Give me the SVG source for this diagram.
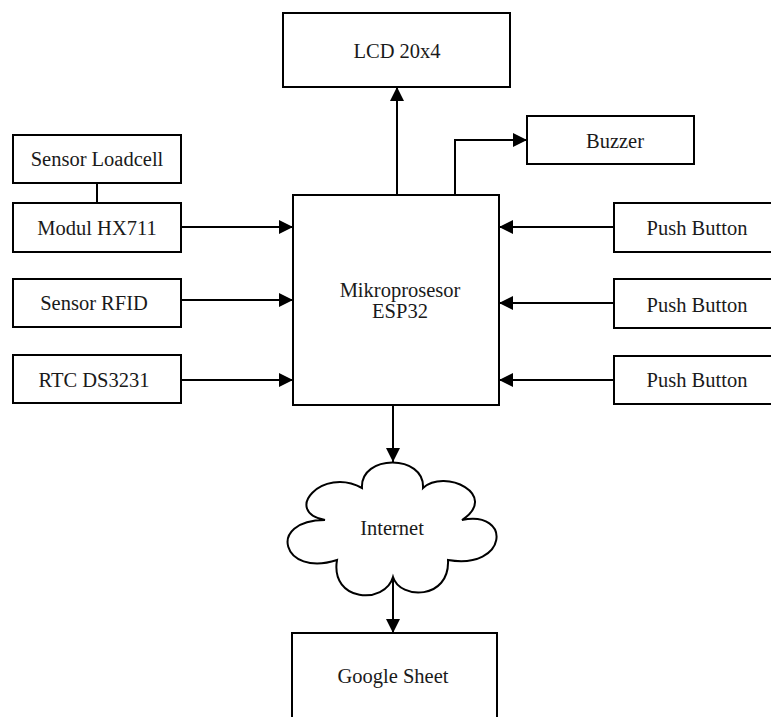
<svg xmlns="http://www.w3.org/2000/svg" width="771" height="717" viewBox="0 0 771 717">
  <style>
    .box { fill: #ffffff; stroke: #000000; stroke-width: 2; }
    .lbl { font-family: "Liberation Serif", "Times New Roman", serif; font-size: 20.5px; fill: #1a1a1a; text-anchor: middle; }
    .wire { fill: none; stroke: #000000; stroke-width: 2; }
    .arrow { marker-end: url(#head); }
  </style>
  <defs>
    <marker id="head" viewBox="0 0 14 14" refX="14" refY="7" markerWidth="14" markerHeight="14" markerUnits="userSpaceOnUse" orient="auto">
      <path d="M0,0 L14,7 L0,14 Z" fill="#000000"/>
    </marker>
  </defs>

  <rect width="771" height="717" fill="#ffffff"/>

  <!-- connectors -->
  <g id="connectors">
    <line class="wire" x1="97" y1="183" x2="97" y2="203"/>
    <line class="wire arrow" x1="181" y1="227" x2="293" y2="227"/>
    <line class="wire arrow" x1="181" y1="300" x2="293" y2="300"/>
    <line class="wire arrow" x1="181" y1="380" x2="293" y2="380"/>
    <line class="wire arrow" x1="614" y1="227" x2="499" y2="227"/>
    <line class="wire arrow" x1="614" y1="303" x2="499" y2="303"/>
    <line class="wire arrow" x1="614" y1="380" x2="499" y2="380"/>
    <line class="wire arrow" x1="397" y1="195" x2="397" y2="87"/>
    <polyline class="wire arrow" points="455,195 455,140 527,140"/>
    <line class="wire arrow" x1="393" y1="405" x2="393" y2="462"/>
    <line class="wire arrow" x1="393" y1="577" x2="393" y2="633"/>
  </g>

  <g id="lcd">
    <rect class="box" x="283" y="13" width="227" height="74"/>
    <text class="lbl" x="397" y="58">LCD 20x4</text>
  </g>

  <g id="buzzer">
    <rect class="box" x="527" y="116" width="167" height="48"/>
    <text class="lbl" x="615" y="148">Buzzer</text>
  </g>

  <g id="loadcell">
    <rect class="box" x="13" y="135" width="168" height="48"/>
    <text class="lbl" x="97" y="166">Sensor Loadcell</text>
  </g>

  <g id="hx711">
    <rect class="box" x="13" y="203" width="168" height="49"/>
    <text class="lbl" x="97" y="235">Modul HX711</text>
  </g>

  <g id="rfid">
    <rect class="box" x="13" y="279" width="168" height="48"/>
    <text class="lbl" x="94" y="310">Sensor RFID</text>
  </g>

  <g id="rtc">
    <rect class="box" x="13" y="355" width="168" height="48"/>
    <text class="lbl" x="94" y="387">RTC DS3231</text>
  </g>

  <g id="esp32">
    <rect class="box" x="293" y="195" width="206" height="210"/>
    <text class="lbl" x="400" y="297">Mikroprosesor</text>
    <text class="lbl" x="400" y="318">ESP32</text>
  </g>

  <g id="button1">
    <rect class="box" x="614" y="203" width="170" height="49"/>
    <text class="lbl" x="697" y="235">Push Button</text>
  </g>

  <g id="button2">
    <rect class="box" x="614" y="279" width="170" height="49"/>
    <text class="lbl" x="697" y="312">Push Button</text>
  </g>

  <g id="button3">
    <rect class="box" x="614" y="356" width="170" height="48"/>
    <text class="lbl" x="697" y="387">Push Button</text>
  </g>

  <!-- cloud: seven lobes meeting at sharp notches -->
  <g id="internet">
    <path class="box" d="M362,488
      C360,454 425,454 423,488
      C445,468 500,495 462,520
      C512,510 508,570 448,560
      C450,600 400,600 393,577
      C385,605 330,602 337,560
      C282,578 266,520 325,520
      C282,512 322,466 362,488 Z"/>
    <text class="lbl" x="392" y="535">Internet</text>
  </g>

  <g id="google-sheet">
    <rect class="box" x="292" y="633" width="205" height="100"/>
    <text class="lbl" x="393" y="683">Google Sheet</text>
  </g>
</svg>
